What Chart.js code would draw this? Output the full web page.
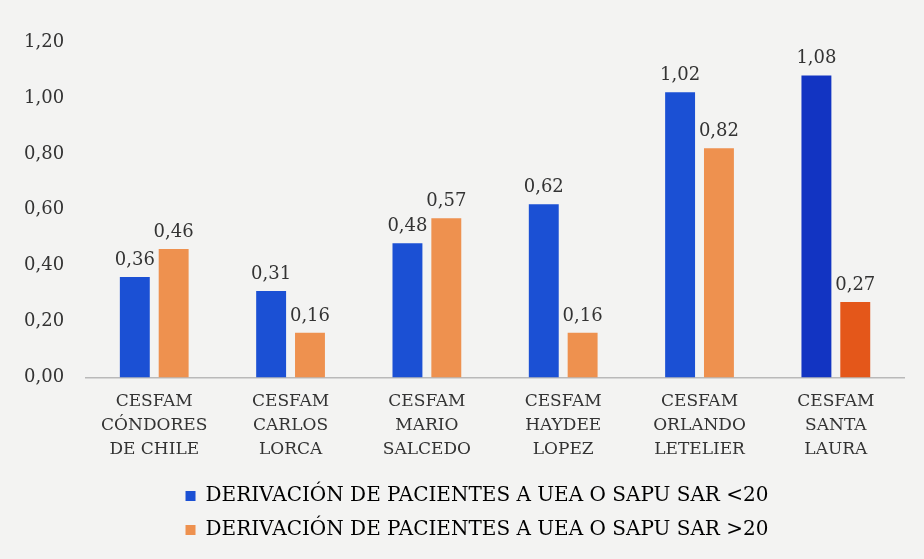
<!DOCTYPE html>
<html>
<head>
<meta charset="utf-8">
<script src="https://cdn.jsdelivr.net/npm/chart.js@4/dist/chart.umd.min.js"></script>
<style>
  html, body { margin: 0; padding: 0; background: #f3f3f2; }
  #wrap { width: 924px; height: 559px; }
</style>
</head>
<body>
<div id="wrap"><canvas id="chart" width="924" height="559"></canvas></div>
<script>
const categories = [
    ["CESFAM", "CÓNDORES", "DE CHILE"],
    ["CESFAM", "CARLOS", "LORCA"],
    ["CESFAM", "MARIO", "SALCEDO"],
    ["CESFAM", "HAYDEE", "LOPEZ"],
    ["CESFAM", "ORLANDO", "LETELIER"],
    ["CESFAM", "SANTA", "LAURA"]
]
const seriesNames = [
    "DERIVACIÓN DE PACIENTES A UEA O SAPU SAR <20",
    "DERIVACIÓN DE PACIENTES A UEA O SAPU SAR >20"
]
const under20 = [0.36, 0.31, 0.48, 0.62, 1.02, 1.08]
const over20 = [0.46, 0.16, 0.57, 0.16, 0.82, 0.27]

const blue = '#1b50d4'
const orange = '#ee914f'
// the last group is printed a bit darker in the scan
const blueBars = ['#1b50d4', '#1b50d4', '#1b50d4', '#1b50d4', '#1b50d4', '#1234c2']
const orangeBars = ['#ee914f', '#ee914f', '#ee914f', '#ee914f', '#ee914f', '#e4571a']

const fmt = (v) => v.toFixed(2).replace('.', ',')
const serif = "'DejaVu Serif', 'Liberation Serif', serif"

const valueLabels = {
    id: 'valueLabels',
    afterDatasetsDraw(chart) {
        const ctx = chart.ctx
        ctx.save()
        ctx.font = '18px ' + serif
        ctx.fillStyle = '#333'
        ctx.textAlign = 'center'
        ctx.textBaseline = 'bottom'
        chart.data.datasets.forEach((ds, i) => {
            chart.getDatasetMeta(i).data.forEach((bar, j) => {
                ctx.fillText(fmt(ds.data[j]), bar.x, bar.y - 8)
            })
        })
        ctx.restore()
    }
}

// legend in the original sits a little right of centre
const legendShift = {
    id: 'legendShift',
    afterLayout(chart) {
        chart.legend.left += 20
        chart.legend.right += 20
    }
}

const ctx = document.getElementById('chart').getContext('2d')
const myChart = new Chart(ctx, {
    type: 'bar',
    data: {
        labels: categories,
        datasets: [
            { label: seriesNames[0], data: under20, backgroundColor: blueBars, categoryPercentage: 0.57, barPercentage: 0.77 },
            { label: seriesNames[1], data: over20, backgroundColor: orangeBars, categoryPercentage: 0.57, barPercentage: 0.77 }
        ]
    },
    options: {
        responsive: false,
        animation: false,
        layout: { padding: { left: 10, right: 20, top: 42, bottom: 9 } },
        plugins: {
            title: { display: false },
            tooltip: { enabled: false },
            legend: {
                position: 'bottom',
                labels: {
                    font: { family: serif, size: 20 },
                    color: '#333',
                    boxWidth: 10,
                    boxHeight: 10,
                    padding: 14,
                    generateLabels: (chart) => [
                        { text: seriesNames[0], fillStyle: blue, strokeStyle: blue, lineWidth: 0, datasetIndex: 0 },
                        { text: seriesNames[1], fillStyle: orange, strokeStyle: orange, lineWidth: 0, datasetIndex: 1 }
                    ]
                }
            }
        },
        scales: {
            x: {
                grid: { display: false },
                border: { display: true, color: '#b9b9b9', width: 1.5 },
                afterFit: (scale) => { scale.height += 7 },
                ticks: {
                    color: '#333',
                    font: { family: serif, size: 17, lineHeight: 1.4 },
                    padding: 4,
                    maxRotation: 0
                }
            },
            y: {
                min: 0,
                max: 1.2,
                grid: { display: false },
                border: { display: false },
                ticks: {
                    stepSize: 0.2,
                    color: '#333',
                    font: { family: serif, size: 18 },
                    padding: 14,
                    callback: (v) => fmt(v)
                }
            }
        }
    },
    plugins: [valueLabels, legendShift]
})
</script>
</body>
</html>
